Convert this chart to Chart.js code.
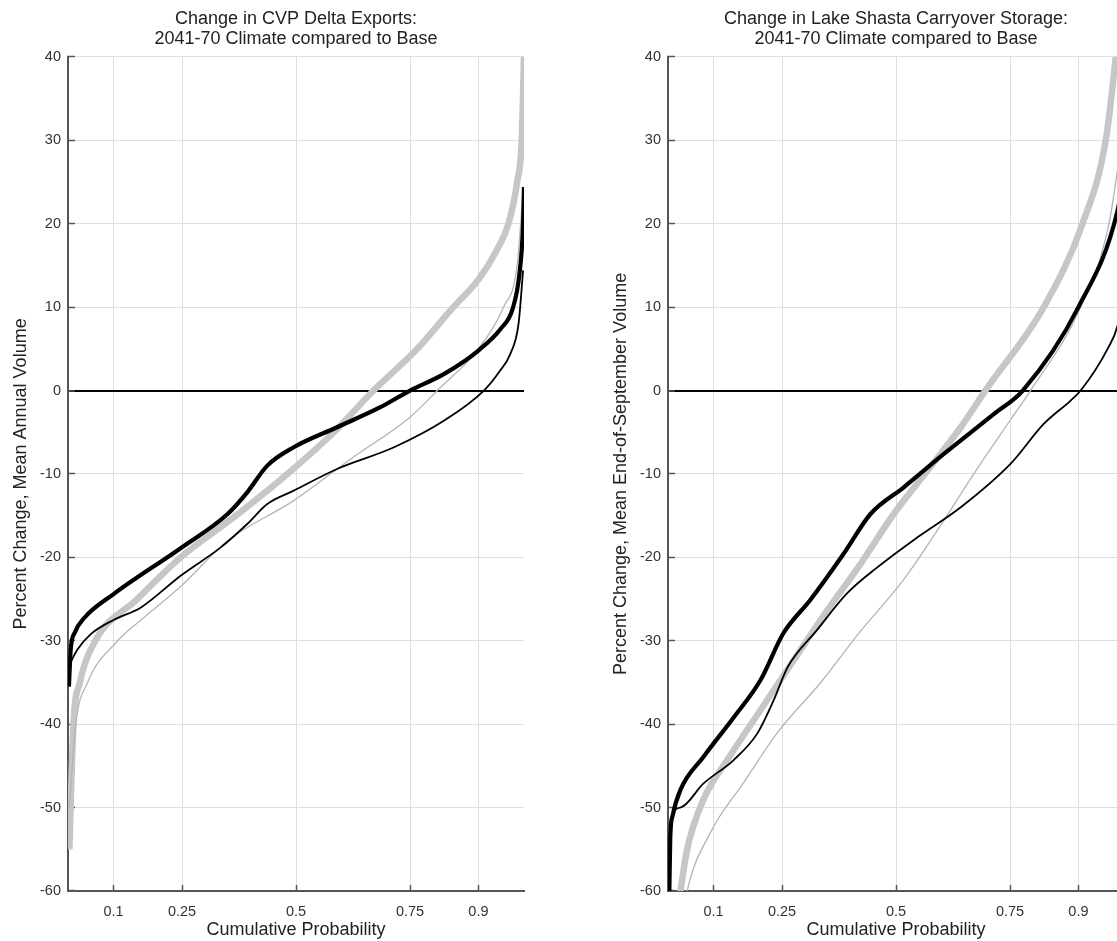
<!DOCTYPE html>
<html><head><meta charset="utf-8">
<script src="https://cdn.jsdelivr.net/npm/chart.js@4.4.1/dist/chart.umd.min.js"></script>
<style>
html,body{margin:0;padding:0;background:#fff;overflow:hidden;width:1117px;height:941px;}
#wrap{position:relative;width:1117px;height:941px;overflow:hidden;background:#fff;}
canvas{position:absolute;top:0;}
#c1{left:0px}
#c2{left:600px}
</style></head><body>
<div id="wrap"><canvas id="c1" width="560" height="941"></canvas><canvas id="c2" width="560" height="941"></canvas></div>
<script>
// ---- tick values / labels ----
const probTicks = [0.1, 0.25, 0.5, 0.75, 0.9];
const yMin = -60, yMax = 40, yStep = 10;

// ---- titles ----
const titleLeft = ['Change in CVP Delta Exports:', '2041-70 Climate compared to Base'];
const titleRight = ['Change in Lake Shasta Carryover Storage:', '2041-70 Climate compared to Base'];
const yTitleLeft = 'Percent Change, Mean Annual Volume';
const yTitleRight = 'Percent Change, Mean End-of-September Volume';
const xTitle = 'Cumulative Probability';

// ---- Left panel: CVP Delta Exports ----
const cvpGrayThickP = [0.003,0.012,0.026,0.06,0.152,0.247,0.368,0.481,0.583,0.67,0.766,0.845,0.9,0.94,0.966,0.985,0.995,1.0];
const cvpGrayThickV = [-55,-40,-35,-30,-25,-20,-15,-10,-5,0,5,10,13.3,16.8,20,25,30,40];
const cvpGrayThinP = [0.003,0.017,0.043,0.109,0.16,0.247,0.35,0.495,0.62,0.75,0.81,0.9,0.955,0.985,0.998];
const cvpGrayThinV = [-50,-40,-35,-30,-27.5,-23.5,-18,-13.2,-8.2,-3.2,0,5,10,15,24];
const cvpBlackThickP = [0.002,0.006,0.015,0.035,0.1,0.247,0.35,0.393,0.437,0.495,0.59,0.685,0.75,0.825,0.9,0.949,0.975,0.99,0.998,1.0];
const cvpBlackThickV = [-35.5,-31,-29,-27.3,-24.4,-18.9,-14.8,-12.2,-9,-6.8,-4.4,-2,0,2,4.8,7.4,9.8,14,20,24.4];
const cvpBlackThinP = [0.002,0.02,0.05,0.1,0.16,0.247,0.335,0.393,0.437,0.495,0.59,0.715,0.825,0.912,0.945,0.97,0.988,0.998];
const cvpBlackThinV = [-33,-31.1,-29.2,-27.5,-26,-22.2,-18.8,-16,-13.6,-12,-9.4,-6.8,-3.6,0,2.2,4.4,8,14.4];

// ---- Right panel: Lake Shasta Carryover Storage ----
const shaGrayThickP = [0.022,0.042,0.078,0.13,0.203,0.276,0.35,0.422,0.495,0.569,0.642,0.696,0.824,0.909,0.96,0.982,1.0];
const shaGrayThickV = [-62,-55,-49,-44.3,-38.3,-32.3,-26.3,-20.8,-14.8,-9.6,-4.4,0,10,20,30,40,50];
const shaGrayThinP = [0.036,0.042,0.093,0.166,0.24,0.335,0.42,0.515,0.595,0.68,0.755,0.795,0.905,0.967,1.0];
const shaGrayThinV = [-62,-60,-53,-47,-41,-35,-29,-22.8,-16.4,-9.2,-3.2,0,10,20,32];
const shaBlackThickP = [0.003,0.005,0.01,0.027,0.078,0.144,0.203,0.253,0.312,0.386,0.444,0.517,0.605,0.715,0.778,0.9,0.986,1.0];
const shaBlackThickV = [-60,-53.5,-51,-47.9,-43.9,-39.2,-34.7,-29.1,-25.1,-19.5,-14.8,-11.6,-7.6,-2.8,0,10,21.6,26];
const shaBlackThinP = [0.003,0.005,0.027,0.078,0.144,0.196,0.232,0.262,0.327,0.393,0.459,0.547,0.642,0.751,0.824,0.883,0.905,0.964,0.986,1.0];
const shaBlackThinV = [-60,-52,-50,-47.1,-44.3,-41.1,-37.1,-33.2,-28.7,-24.3,-21.2,-17.6,-14,-8.8,-4,-1.2,0,5,7.8,12];

const FONT = "'Liberation Sans', Arial, Helvetica, sans-serif";
const styles = {
  blackThin:  {color:'#000000', width:1.8},
  blackThick: {color:'#000000', width:4.2},
  grayThin:   {color:'#b4b4b4', width:1.3},
  grayThick:  {color:'#c6c6c6', width:6.5}
};

function pts(px, py){ return px.map((x,i)=>({x:x, y:py[i]})); }

function makeChart(id, titleLines, yTitle, series){
  return new Chart(document.getElementById(id), {
    type:'line',
    data:{ datasets: series.map(s=>({
      data: pts(s.p, s.v),
      borderColor: styles[s.style].color,
      borderWidth: styles[s.style].width,
      pointRadius:0, fill:false,
      cubicInterpolationMode:'monotone',
      borderCapStyle:'butt'
    }))},
    options:{
      responsive:false, animation:false, devicePixelRatio:1,
      layout:{padding:{left:0,right:36,top:0,bottom:0}},
      plugins:{
        legend:{display:false}, tooltip:{enabled:false},
        title:{display:true, text:titleLines, fullSize:false, color:'#222',
          font:{family:FONT, size:18, weight:'normal', lineHeight:1.12},
          padding:{top:9,bottom:7.6}}
      },
      scales:{
        x:{
          type:'linear', min:0, max:1,
          afterBuildTicks: sc => { sc.ticks = probTicks.map(v=>({value:v})); },
          afterFit: sc => { sc.height = 50; },
          ticks:{callback:v=>String(v), autoSkip:false, maxRotation:0, padding:18, color:'#333',
            font:{family:FONT, size:14.5}},
          grid:{color:'#dedede', lineWidth:1, tickLength:-6, tickColor:'#555', tickWidth:1.5},
          border:{display:true, color:'#555', width:2},
          title:{display:true, text:xTitle, color:'#222', font:{family:FONT, size:18, lineHeight:1.2}, padding:{top:0,bottom:0}}
        },
        y:{
          type:'linear', min:yMin, max:yMax,
          afterFit: sc => { sc.width = 68; },
          ticks:{stepSize:yStep, padding:14, color:'#333', font:{family:FONT, size:14.5}},
          grid:{
            color: c => (c.tick && c.tick.value===0) ? '#000' : '#dedede',
            lineWidth: c => (c.tick && c.tick.value===0) ? 2 : 1,
            tickLength:-7, tickColor:'#555', tickWidth:1.5},
          border:{display:true, color:'#555', width:2},
          title:{display:true, text:yTitle, color:'#222', font:{family:FONT, size:18, lineHeight:1.2}, padding:{top:10,bottom:0}}
        }
      }
    }
  });
}

makeChart('c1', titleLeft, yTitleLeft, [
  {p:cvpBlackThinP,  v:cvpBlackThinV,  style:'blackThin'},
  {p:cvpBlackThickP, v:cvpBlackThickV, style:'blackThick'},
  {p:cvpGrayThinP,   v:cvpGrayThinV,   style:'grayThin'},
  {p:cvpGrayThickP,  v:cvpGrayThickV,  style:'grayThick'}
]);
makeChart('c2', titleRight, yTitleRight, [
  {p:shaBlackThinP,  v:shaBlackThinV,  style:'blackThin'},
  {p:shaBlackThickP, v:shaBlackThickV, style:'blackThick'},
  {p:shaGrayThinP,   v:shaGrayThinV,   style:'grayThin'},
  {p:shaGrayThickP,  v:shaGrayThickV,  style:'grayThick'}
]);
</script>
</body></html>
